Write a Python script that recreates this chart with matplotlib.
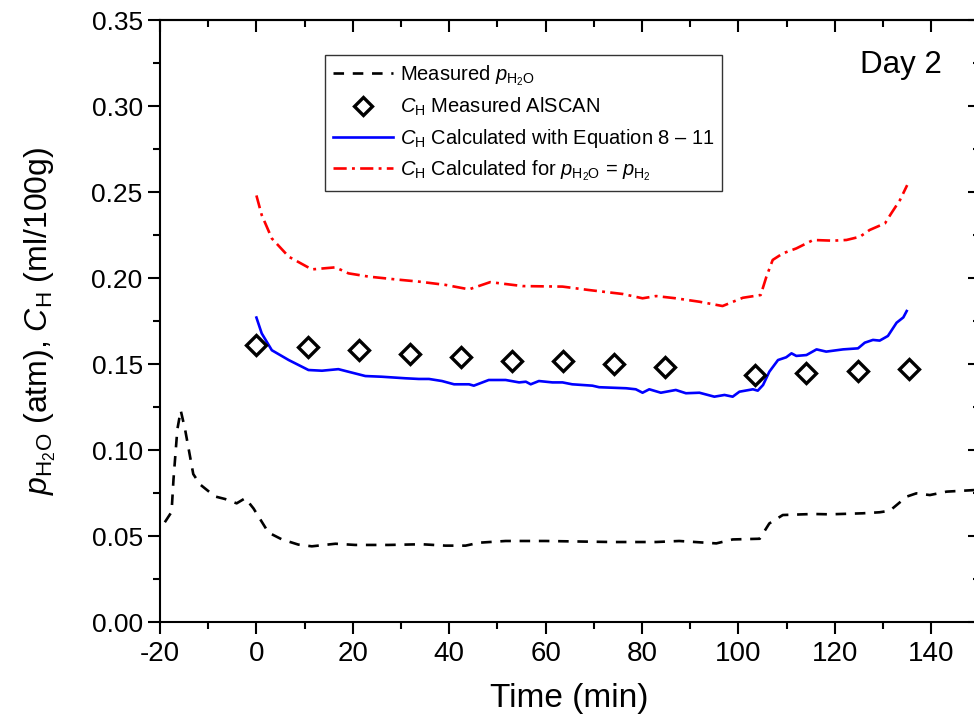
import matplotlib
matplotlib.use("Agg")
import matplotlib.pyplot as plt
from matplotlib import font_manager
from matplotlib.ticker import MultipleLocator, FormatStrFormatter

# ---------------- data ----------------
t_meas = [-19, -17.6, -17.2, -16.4, -15.7, -14.8, -13.1, -11.7, -8.6, -6.5, -4.1, -2.3,
          -0.6, 2.5, 5.3, 8.7, 11.5, 16.4, 20.5, 27.4, 34.3, 39.2, 43.4, 46.2, 51.7, 60,
          73.8, 82.9, 87.7, 95.4, 98.8, 104.4, 106.4, 109.2, 115.5, 118.9, 125.8, 129.3,
          131.4, 134.9, 136.9, 139.7, 143.2, 148.9]
p_meas = [0.058, 0.064, 0.083, 0.112, 0.123, 0.112, 0.086, 0.080, 0.073, 0.0715, 0.069, 0.072,
          0.066, 0.052, 0.048, 0.045, 0.044, 0.0455, 0.0448, 0.0448, 0.0452, 0.0444, 0.0444,
          0.0461, 0.0471, 0.0471, 0.0465, 0.0465, 0.0471, 0.0457, 0.048, 0.0484, 0.0573,
          0.0622, 0.0628, 0.0626, 0.0632, 0.0638, 0.0647, 0.0729, 0.0748, 0.0738, 0.0758, 0.0767]

t_alscan = [0, 10.6, 21.2, 31.8, 42.4, 53, 63.6, 74.2, 84.8, 103.5, 114.1, 124.7, 135.3]
c_alscan = [0.161, 0.160, 0.158, 0.156, 0.154, 0.152, 0.152, 0.150, 0.148, 0.1436, 0.1446,
            0.1457, 0.1473]

t_eq = [0, 1.1, 3.2, 6.7, 10.8, 13.6, 17, 19.8, 22.6, 26, 30.9, 33.7, 35.8, 38.5, 41, 44.1,
        45.1, 48.2, 51.7, 54.5, 55.9, 56.9, 58.6, 61.4, 63.5, 65.5, 69.7, 71.1, 76.7, 78.7,
        80.1, 81.5, 83.9, 87, 89.1, 91.9, 95, 97.1, 98.8, 100.2, 103, 104, 105.1, 106.4,
        108.2, 109.9, 111, 112, 114.1, 116.2, 118.2, 121.7, 124.8, 126.2, 127.9, 129.3, 131,
        132.8, 134.2, 134.9]
c_eq = [0.177, 0.1678, 0.158, 0.1523, 0.1465, 0.1461, 0.147, 0.145, 0.143, 0.1426, 0.1417,
        0.1413, 0.1413, 0.1401, 0.1382, 0.1382, 0.1374, 0.1407, 0.1407, 0.1393, 0.1397,
        0.1382, 0.1401, 0.1393, 0.1393, 0.1382, 0.1374, 0.1365, 0.1359, 0.1353, 0.1333,
        0.1353, 0.1333, 0.1349, 0.133, 0.1333, 0.131, 0.132, 0.131, 0.1339, 0.1353, 0.1345,
        0.1378, 0.1455, 0.1523, 0.1539, 0.1562, 0.1547, 0.1552, 0.1585, 0.1572, 0.1585,
        0.1591, 0.1624, 0.164, 0.1636, 0.1663, 0.174, 0.1771, 0.1808]

t_eqp = [0, 1.1, 3.2, 6.7, 11.5, 16.4, 19.1, 23.3, 28.8, 33.7, 39.2, 44.1, 48.5, 55.2, 63.5,
         69, 76, 80.1, 82.9, 87, 91.9, 96.7, 100.9, 104.6, 105.8, 107.1, 109.2, 112, 115.5,
         119.6, 122.4, 125.2, 127.2, 130.4, 131.7, 133.5, 135]
c_eqp = [0.248, 0.2366, 0.223, 0.2124, 0.205, 0.2062, 0.2027, 0.2008, 0.1992, 0.1979, 0.196,
         0.1934, 0.1976, 0.1953, 0.195, 0.193, 0.1907, 0.1882, 0.1895, 0.1882, 0.1862, 0.1837,
         0.1885, 0.1901, 0.2008, 0.2105, 0.2143, 0.2172, 0.2221, 0.2217, 0.2221, 0.224,
         0.2279, 0.2318, 0.2376, 0.2453, 0.254]

x_major = [-20, 0, 20, 40, 60, 80, 100, 120, 140]
y_major = [0.00, 0.05, 0.10, 0.15, 0.20, 0.25, 0.30, 0.35]

# ---------------- fonts ----------------
names = {f.name for f in font_manager.fontManager.ttflist}
BASE = "Liberation Sans" if "Liberation Sans" in names else "DejaVu Sans"
NARROW = "Liberation Sans Narrow" if "Liberation Sans Narrow" in names else BASE

plt.rcParams["font.family"] = [BASE, "DejaVu Sans"]
plt.rcParams["axes.unicode_minus"] = False
plt.rcParams["mathtext.fontset"] = "custom"
plt.rcParams["mathtext.rm"] = BASE
plt.rcParams["mathtext.it"] = BASE + ":italic"
plt.rcParams["mathtext.bf"] = BASE + ":bold"

W, H = 974, 722
fig = plt.figure(figsize=(W / 100, H / 100), dpi=100)
ax = fig.add_axes([160 / W, 1 - 622 / H, (979.5 - 160) / W, (622 - 20) / H])

lw = 1.9
ax.plot(t_meas, p_meas, color="black", lw=lw, dashes=[4.0, 3.3],
        label=r"Measured $p_{\mathrm{H_2O}}$")
ax.plot(t_alscan, c_alscan, linestyle="none", marker="D", markersize=10.5,
        markerfacecolor="white", markeredgecolor="black", markeredgewidth=2.4,
        label=r"$C_{\mathrm{H}}$ Measured AlSCAN", zorder=5)
ax.plot(t_eq, c_eq, color="#0000ff", lw=lw,
        label=r"$C_{\mathrm{H}}$ Calculated with Equation 8 – 11")
ax.plot(t_eqp, c_eqp, color="#ff0000", lw=lw, dashes=[5.0, 2.0, 1.1, 2.0],
        label=r"$C_{\mathrm{H}}$ Calculated for $p_{\mathrm{H_2O}}$ = $p_{\mathrm{H_2}}$")

ax.set_xlim(-20, 150)
ax.set_ylim(0, 0.35)
ax.set_xticks(x_major)
ax.set_yticks(y_major)
ax.xaxis.set_minor_locator(MultipleLocator(10))
ax.yaxis.set_minor_locator(MultipleLocator(0.025))
ax.yaxis.set_major_formatter(FormatStrFormatter("%.2f"))

for s in ax.spines.values():
    s.set_linewidth(1.5)

ax.tick_params(which="major", direction="out", length=8.5, width=1.5)
ax.tick_params(which="minor", direction="out", length=5, width=1.5)
ax.tick_params(axis="y", labelsize=19, pad=4)
ax.tick_params(axis="x", labelsize=20, pad=5)
for lab in ax.get_xticklabels():
    lab.set_fontfamily(NARROW)

# top / right ticks pointing inward
top = ax.secondary_xaxis("top")
top.set_xticks(x_major)
top.xaxis.set_minor_locator(MultipleLocator(10))
top.tick_params(which="major", direction="in", length=8.5, width=1.5, labeltop=False)
top.tick_params(which="minor", direction="in", length=5, width=1.5)
top.spines["top"].set_linewidth(1.5)
right = ax.secondary_yaxis("right")
right.set_yticks(y_major)
right.yaxis.set_minor_locator(MultipleLocator(0.025))
right.tick_params(which="major", direction="in", length=8.5, width=1.5, labelright=False)
right.tick_params(which="minor", direction="in", length=5, width=1.5)
right.spines["right"].set_linewidth(1.5)

ax.set_xlabel("Time (min)", fontsize=24, fontfamily=NARROW, labelpad=12)
ax.set_ylabel(r"$p_{\mathrm{H_2O}}$ (atm), $C_{\mathrm{H}}$ (ml/100g)", fontsize=23, labelpad=24)

fig.text(942 / W, 1 - 73 / H, "Day 2", fontsize=22.5, ha="right", va="baseline")

leg = ax.legend(loc="upper left", bbox_to_anchor=(325 / W, 1 - 55 / H),
                bbox_transform=fig.transFigure, fontsize=14.5, frameon=True,
                fancybox=False, edgecolor="black", handlelength=3.0, handletextpad=0.3,
                labelspacing=0.42, borderpad=0.4, borderaxespad=0, numpoints=1,
                markerscale=0.85)
leg.get_frame().set_linewidth(1.0)

fig.savefig("out.png", dpi=100)
